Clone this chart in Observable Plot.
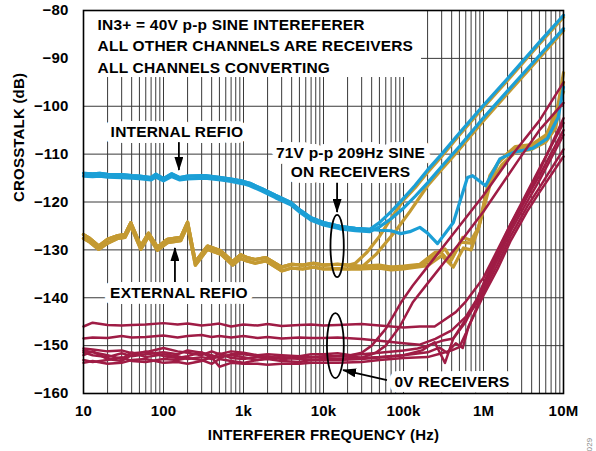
<!DOCTYPE html>
<html><head><meta charset="utf-8">
<script src="https://cdn.jsdelivr.net/npm/d3@7"></script>
<script src="https://cdn.jsdelivr.net/npm/@observablehq/plot@0.6"></script>
<style>html,body{margin:0;padding:0;background:#fff;}</style>
</head><body><div id="chart"></div>
<script>
// ---------- axis data ----------
const xTickValues = [10, 100, 1000, 10000, 100000, 1000000, 10000000];
const xTickLabels = ["10", "100", "1k", "10k", "100k", "1M", "10M"];
const yTickValues = [-160, -150, -140, -130, -120, -110, -100, -90, -80];
const gridMantissas = [1, 2, 3, 4, 5, 6, 7, 8, 9];
const gridDecades = [10, 100, 1000, 10000, 100000, 1000000];

// ---------- blue: internal REFIO ----------
const blueLowF = [10, 13, 16, 20, 30, 40, 50, 70, 80, 100, 126, 160, 200, 330, 520, 700, 1000, 1200, 1700, 2500, 3900, 5200, 7000, 10000, 16000, 25000, 38000];
const blueLowDB = [-114.0, -114.1, -114.0, -114.2, -114.3, -114.5, -114.6, -114.9, -114.2, -115.1, -114.1, -114.9, -114.6, -114.5, -114.9, -115.2, -115.7, -116.1, -117.2, -118.6, -120.1, -121.8, -123.3, -124.3, -125.1, -125.5, -125.7];
const blueLowDB2 = [-114.6, -114.7, -114.6, -114.8, -114.9, -115.0, -115.1, -115.4, -114.8, -115.6, -114.7, -115.4, -115.2, -115.0, -115.4, -115.7, -116.2, -116.6, -117.7, -119.1, -120.6, -122.3, -123.8, -124.8, -125.6, -126.0, -126.2];
const blueAHigh = [[50000,-124.3],[70000,-122],[93000,-119.8],[140000,-116.5],[200000,-113.3],[300000,-110],[500000,-105.6],[1e6,-99.8],[2e6,-94.2],[5e6,-86.6],[1e7,-81]];
const blueBHigh = [[50000,-125.2],[70000,-123.5],[100000,-121.3],[140000,-118.8],[200000,-116],[300000,-112.6],[500000,-108.4],[1e6,-102.4],[2e6,-96.8],[5e6,-89.4],[1e7,-83.8]];
const blueCHigh = [[50000,-125.9],[70000,-126],[92000,-126.6],[120000,-126.2],[160000,-125.3],[200000,-126.5],[266000,-128.7],[420000,-124.3],[630000,-114.9],[730000,-114.5],[1060000,-116.6],[1600000,-111],[2400000,-109.6],[4100000,-108.8],[6300000,-106.7],[8600000,-102.3],[1e7,-96]];

// ---------- gold: external REFIO ----------
const goldLowF = [10, 12, 15.5, 20, 27, 33, 39, 52, 65, 84, 112, 164, 200, 250, 355, 520, 730, 920, 1100, 1400, 1900, 3000, 4000, 5500, 7500, 10000, 15000, 20000];
const goldLowA = [-126.8, -127.6, -129.2, -127.8, -127.0, -126.8, -124.3, -129.2, -126.5, -129.4, -127.8, -127.4, -124.2, -132.5, -129.2, -130.2, -132.4, -131.0, -131.6, -132.0, -131.6, -133.6, -133.0, -133.2, -132.8, -133.2, -133.0, -133.2];
const goldLowB = [-127.6, -128.4, -129.9, -128.6, -127.6, -127.4, -125.0, -129.9, -127.2, -130.1, -128.5, -128.1, -125.0, -133.2, -129.9, -130.9, -133.2, -131.8, -132.3, -132.8, -132.3, -134.4, -133.8, -134.0, -133.6, -134.0, -133.9, -134.0];
const gold1High = [[25000,-132.8],[35000,-130.5],[50000,-127.2],[70000,-123.4],[100000,-119.6],[140000,-117],[200000,-113.8],[300000,-110.5],[500000,-106],[1e6,-100.2],[2e6,-94.6],[5e6,-87],[1e7,-81.4]];
const gold2High = [[30000,-133.6],[45000,-131],[60000,-128.5],[80000,-126],[120000,-122],[200000,-116.6],[300000,-113.2],[500000,-109],[1e6,-103],[2e6,-97.3],[5e6,-89.9],[1e7,-84.2]];
const gold3High = [[30000,-133.4],[50000,-133.2],[70000,-133.6],[100000,-133.4],[160000,-133],[250000,-130.5],[290000,-130.4],[380000,-132.6],[550000,-127.4],[700000,-128],[870000,-125.3],[1200000,-114.5],[1600000,-111.3],[2500000,-108.4],[4e6,-108],[6e6,-106],[8e6,-102.5],[1e7,-93]];
const gold4High = [[30000,-134],[50000,-133.8],[70000,-134.2],[100000,-134],[200000,-133.3],[300000,-131.2],[420000,-133.6],[560000,-129.6],[700000,-130],[900000,-124.5],[1200000,-116.5],[1700000,-112.2],[2500000,-109.6],[4e6,-109],[6e6,-107.5],[8e6,-104.5],[1e7,-95]];
const gold5High = [[30000,-133.8],[50000,-133.5],[100000,-133.7],[180000,-133],[260000,-131],[330000,-129.8],[400000,-132],[520000,-128.4],[700000,-128.6],[850000,-126],[1100000,-118],[1500000,-112],[2300000,-109],[4e6,-108.5],[6e6,-106.5],[1e7,-97]];

// ---------- crimson: 0V receivers ----------
const redLowF = [10, 13, 20, 30, 40, 60, 100, 150, 200, 300, 400, 500, 700, 1000, 1500, 2000, 3000, 5000, 7000, 10000];
const redC1Low = [-146.0, -145.2, -145.7, -145.8, -145.7, -145.6, -145.3, -145.6, -145.4, -145.8, -145.6, -145.4, -146.0, -145.6, -145.8, -145.5, -145.9, -145.7, -145.6, -145.8];
const redC2Low = [-148.5, -148.3, -148.4, -148.0, -148.3, -148.2, -147.9, -148.3, -148.0, -147.8, -148.2, -148.0, -148.3, -148.0, -148.4, -148.2, -148.5, -148.3, -148.4, -148.4];
const redD1Low = [-150.6, -150.8, -151.2, -151.0, -151.6, -151.4, -150.5, -151.2, -151.5, -152.0, -151.2, -151.8, -151.2, -151.5, -152.0, -151.8, -152.0, -152.2, -151.8, -151.8];
const redD2Low = [-151.4, -152.0, -152.4, -151.6, -152.2, -151.8, -151.4, -151.8, -151.0, -151.5, -152.0, -152.6, -151.8, -151.8, -152.2, -152.5, -152.6, -152.4, -152.5, -152.2];
const redM1Low = [-152.0, -151.2, -152.8, -153.2, -152.0, -151.2, -152.2, -152.6, -152.2, -151.4, -152.6, -151.6, -152.6, -152.8, -152.4, -152.2, -152.8, -152.6, -152.4, -152.4];
const redM2Low = [-153.0, -153.4, -153.0, -152.4, -153.2, -153.4, -152.8, -153.0, -152.6, -153.0, -153.8, -152.8, -153.2, -153.6, -153.0, -152.8, -153.2, -153.4, -153.0, -153.0];
const redM3Low = [-153.6, -153.2, -153.8, -153.6, -153.0, -152.8, -153.6, -153.4, -153.8, -153.2, -152.4, -154.4, -153.6, -153.8, -153.8, -154.0, -153.8, -153.8, -153.6, -153.6];
const redM4Low = [-151.0, -151.4, -152.0, -152.8, -151.4, -152.4, -151.8, -152.2, -152.8, -152.4, -152.8, -152.2, -152.0, -152.4, -153.0, -152.6, -152.4, -152.8, -153.0, -152.8];
const redC1High = [[15000,-145.7],[30000,-145.5],[50000,-145.8],[100000,-146.2],[160000,-146],[245000,-146],[300000,-145],[450000,-143],[600000,-140.8],[800000,-138],[1e6,-135.8],[1500000,-130],[2200000,-124.5],[3500000,-118],[5e6,-113],[1e7,-103.5]];
const redC2High = [[15000,-148.3],[30000,-148.6],[50000,-149],[100000,-149.5],[160000,-149.8],[250000,-148.6],[400000,-146.8],[600000,-144],[850000,-140],[1e6,-137.2],[1500000,-131.2],[2200000,-125.2],[3500000,-119],[5e6,-114.5],[1e7,-105]];
const redD1High = [[15000,-151.6],[22000,-152],[30000,-151.5],[40000,-150],[60000,-146.5],[93000,-141],[130000,-137.5],[200000,-133.5],[500000,-125],[1e6,-118.6],[2200000,-110.5],[5e6,-103],[1e7,-95]];
const redD2High = [[15000,-152.2],[20000,-152.3],[30000,-152.5],[45000,-151.5],[60000,-150],[90000,-146],[130000,-141],[200000,-137],[500000,-128.6],[1e6,-122],[2800000,-111],[5e6,-105],[1e7,-99.3]];
const redM1High = [[15000,-152.2],[30000,-151.8],[50000,-151.5],[100000,-151],[150000,-150.6],[200000,-150],[300000,-149],[420000,-148.5],[600000,-145],[850000,-140],[1e6,-137],[1500000,-130.5],[2200000,-124.5],[3500000,-118.5],[5e6,-113.5],[1e7,-102.5]];
const redM2High = [[15000,-153],[30000,-152.8],[50000,-152.5],[100000,-152],[170000,-151],[245000,-149.3],[330000,-153.6],[420000,-148.5],[600000,-144.5],[850000,-140.8],[1e6,-138],[1500000,-132],[2200000,-126],[3500000,-120],[5e6,-115.5],[1e7,-106]];
const redM3High = [[15000,-153.6],[30000,-153.4],[50000,-153],[100000,-152.6],[200000,-152.4],[300000,-151.6],[400000,-151],[500000,-150.3],[600000,-147.5],[850000,-141.5],[1e6,-138.8],[1500000,-133],[2200000,-127],[3500000,-121],[5e6,-117],[1e7,-109]];
const redM4High = [[15000,-152.8],[30000,-152.6],[50000,-152.4],[100000,-152],[200000,-151.4],[280000,-150.4],[350000,-151.5],[450000,-149.5],[550000,-150.5],[650000,-146],[850000,-142],[1e6,-139.5],[1500000,-134],[2200000,-128],[3500000,-122],[5e6,-118],[1e7,-110.5]];

// ---------- annotations ----------
const noteLines = ["IN3+ = 40V p-p SINE INTEREFERER", "ALL OTHER CHANNELS ARE RECEIVERS", "ALL CHANNELS CONVERTING"];
const noteF = [15, 15, 15];
const noteDB = [-83.1, -87.5, -92.0];
const noteBox = [{f1: 10, f2: 168000, db1: -94.0, db2: -80}];
const labelText = ["INTERNAL REFIO", "EXTERNAL REFIO", "71V p-p 209Hz SINE", "ON RECEIVERS", "0V RECEIVERS"];
const labelF = [147, 156, 21800, 21800, 404000];
const labelDB = [-105.4, -139.1, -109.8, -113.75, -157.7];
const arrowF1 = [158, 141, 15000, 63000];
const arrowDB1 = [-107.6, -136.8, -116.1, -157.3];
const arrowF2 = [158, 141, 15000, 17800];
const arrowDB2 = [-113.4, -129.7, -122.2, -155.2];
const ellipseF = [[12400, 18200], [11200, 18200]];
const ellipseDB = [[-135.8, -122.8], [-156.9, -143.3]];

const BLUE = "#1b9fd6", GOLD = "#c49a32", RED = "#9f1c45";

// ---------- build tables ----------
const zip = (fs, dbs) => fs.map((f, i) => ({f, db: dbs[i]}));
const fromPairs = p => p.map(([f, db]) => ({f, db}));
const series = (name, low, high) => [...low, ...fromPairs(high)].map(d => ({...d, s: name}));

const blueData = [
  ...series("A", zip(blueLowF, blueLowDB), blueAHigh),
  ...series("B", zip(blueLowF, blueLowDB2), blueBHigh),
  ...series("C", zip(blueLowF, blueLowDB), blueCHigh)
];
const goldData = [
  ...series("G1", zip(goldLowF, goldLowA), gold1High),
  ...series("G2", zip(goldLowF, goldLowB), gold2High),
  ...series("G3", zip(goldLowF, goldLowA), gold3High),
  ...series("G4", zip(goldLowF, goldLowB), gold4High),
  ...series("G5", zip(goldLowF, goldLowA), gold5High)
];
const redData = [
  ...series("C1", zip(redLowF, redC1Low), redC1High),
  ...series("C2", zip(redLowF, redC2Low), redC2High),
  ...series("D1", zip(redLowF, redD1Low), redD1High),
  ...series("D2", zip(redLowF, redD2Low), redD2High),
  ...series("M1", zip(redLowF, redM1Low), redM1High),
  ...series("M2", zip(redLowF, redM2Low), redM2High),
  ...series("M3", zip(redLowF, redM3Low), redM3High),
  ...series("M4", zip(redLowF, redM4Low), redM4High)
];
const xGridValues = gridDecades.flatMap(d => gridMantissas.map(m => m * d)).concat([10000000]);
const xLabelMap = new Map(xTickValues.map((v, i) => [v, xTickLabels[i]]));
const minus = d => d < 0 ? "\u2212" + Math.abs(d) : String(d);

const chart = Plot.plot({
  width: 596, height: 451,
  marginLeft: 83, marginRight: 33, marginTop: 10, marginBottom: 58,
  style: {fontFamily: "'Liberation Sans', Arial, sans-serif", fontSize: "15px", fontWeight: "bold", letterSpacing: "0.2px", background: "#fff", color: "#000"},
  x: {type: "log", domain: [10, 1e7]},
  y: {domain: [-160, -80]},
  marks: [
    Plot.gridX(xGridValues, {stroke: "#3a3a3a", strokeOpacity: 1, strokeWidth: 1}),
    Plot.gridY(yTickValues, {stroke: "#3a3a3a", strokeOpacity: 1, strokeWidth: 1}),
    Plot.rect(noteBox, {x1: "f1", x2: "f2", y1: "db1", y2: "db2", fill: "#fff"}),
    Plot.text(noteLines, {x: (d, i) => noteF[i], y: (d, i) => noteDB[i], text: d => d, textAnchor: "start", fontSize: 15.5, fontWeight: "bold", fill: "#000"}),
    Plot.text(labelText, {x: (d, i) => labelF[i], y: (d, i) => labelDB[i], text: d => d, textAnchor: "middle", fontSize: 15.5, fontWeight: "bold", fill: "#000", stroke: "#fff", strokeWidth: 12, strokeLinejoin: "round"}),
    Plot.line(goldData, {x: "f", y: "db", z: "s", stroke: GOLD, strokeWidth: 3.2, strokeLinejoin: "round"}),
    Plot.line(blueData, {x: "f", y: "db", z: "s", stroke: BLUE, strokeWidth: 3.2, strokeLinejoin: "round"}),
    Plot.line(redData, {x: "f", y: "db", z: "s", stroke: RED, strokeWidth: 2.5, strokeLinejoin: "round"}),
    Plot.frame({stroke: "#000", strokeWidth: 1.6}),
    Plot.axisX({ticks: xTickValues, tickFormat: d => xLabelMap.get(d), tickSize: 0, tickPadding: 12, label: null, fontSize: 15}),
    Plot.axisY({ticks: yTickValues, tickFormat: minus, tickSize: 0, tickPadding: 15, label: null, fontSize: 15}),
    Plot.text(["INTERFERER FREQUENCY (Hz)"], {frameAnchor: "bottom", dy: 46, text: d => d, fontSize: 15, fontWeight: "bold"}),
    Plot.text(["CROSSTALK (dB)"], {frameAnchor: "left", dx: -64, rotate: -90, text: d => d, fontSize: 15, fontWeight: "bold"}),
    Plot.text(["029"], {frameAnchor: "bottom-right", dx: 28, dy: 44, rotate: -90, text: d => d, fontSize: 8, fontWeight: "normal", fill: "#888"})
  ]
});

// arrows and ellipses, positioned through Plot's own scales
const sx = chart.scale("x"), sy = chart.scale("y");
const X = v => sx.apply(v), Y = v => sy.apply(v);
const svg = d3.select(chart);
svg.append("defs").append("marker")
  .attr("id", "ahead").attr("viewBox", "0 0 14 9").attr("refX", 13).attr("refY", 4.5)
  .attr("markerWidth", 14).attr("markerHeight", 9).attr("markerUnits", "userSpaceOnUse").attr("orient", "auto")
  .append("path").attr("d", "M0,0L14,4.5L0,9Z").attr("fill", "#000");
const ann = svg.append("g");
arrowF1.forEach((f, i) => {
  ann.append("line")
    .attr("x1", X(f)).attr("y1", Y(arrowDB1[i]))
    .attr("x2", X(arrowF2[i])).attr("y2", Y(arrowDB2[i]))
    .attr("stroke", "#000").attr("stroke-width", 1.8).attr("marker-end", "url(#ahead)");
});
ellipseF.forEach(([f0, f1], i) => {
  const [d0, d1] = ellipseDB[i];
  ann.append("ellipse")
    .attr("cx", (X(f0) + X(f1)) / 2).attr("cy", (Y(d0) + Y(d1)) / 2)
    .attr("rx", Math.abs(X(f1) - X(f0)) / 2).attr("ry", Math.abs(Y(d1) - Y(d0)) / 2)
    .attr("fill", "none").attr("stroke", "#000").attr("stroke-width", 1.8);
});
document.getElementById("chart").appendChild(chart);
</script>
</body></html>
